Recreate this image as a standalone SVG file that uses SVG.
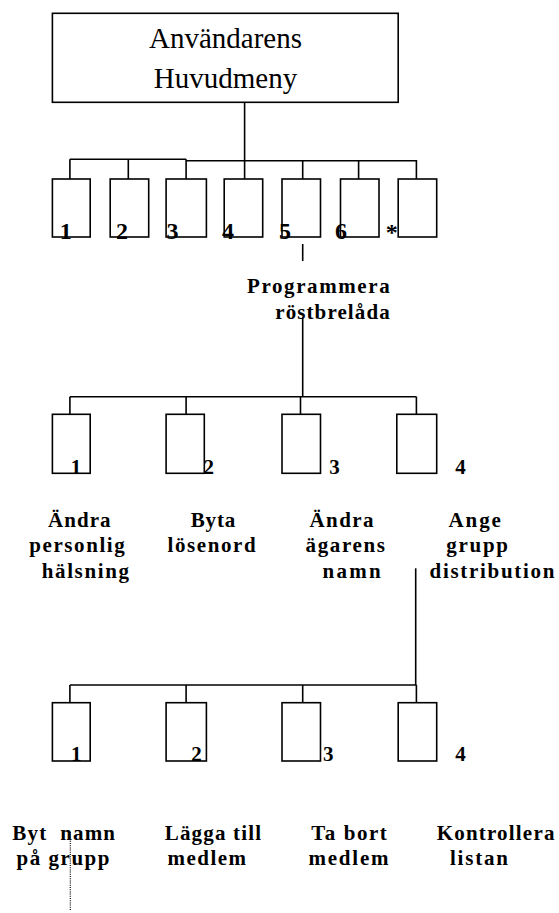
<svg xmlns="http://www.w3.org/2000/svg" width="559" height="913" viewBox="0 0 559 913">
<style>
.bx{fill:#fff;stroke:#000;stroke-width:1.6}
.ln{fill:none;stroke:#000;stroke-width:1.6}
.dot{fill:none;stroke:#000;stroke-width:1.2;stroke-dasharray:1 1.2}
.ttl{font-family:"Liberation Serif","Times New Roman",serif;font-size:29px;fill:#000;text-anchor:middle}
.lb{font-family:"Liberation Serif","Times New Roman",serif;font-weight:bold;font-size:21px;fill:#000}
.d1{font-family:"Liberation Serif","Times New Roman",serif;font-weight:bold;font-size:24px;fill:#000;text-anchor:middle}
.d2{font-family:"Liberation Serif","Times New Roman",serif;font-weight:bold;font-size:21px;fill:#000;text-anchor:middle}
</style>
<rect width="559" height="913" fill="#fff"/>
<g id="connectors">
<line class="ln" x1="244.6" y1="102.3" x2="244.6" y2="160.5"/>
<line class="ln" x1="69.9" y1="159.3" x2="186.1" y2="159.3"/>
<line class="ln" x1="186.1" y1="160.7" x2="416.4" y2="160.7"/>
<line class="ln" x1="69.9" y1="159.3" x2="69.9" y2="179"/>
<line class="ln" x1="128.3" y1="159.3" x2="128.3" y2="179"/>
<line class="ln" x1="186.1" y1="159.3" x2="186.1" y2="179"/>
<line class="ln" x1="244.6" y1="160" x2="244.6" y2="179"/>
<line class="ln" x1="302.7" y1="160" x2="302.7" y2="179"/>
<line class="ln" x1="358.6" y1="160" x2="358.6" y2="179"/>
<line class="ln" x1="416.4" y1="160" x2="416.4" y2="179"/>
<line class="ln" x1="302.7" y1="244" x2="302.7" y2="261"/>
<line class="ln" x1="302.7" y1="316.7" x2="302.7" y2="396.7"/>
<line class="ln" x1="69.9" y1="396.7" x2="416.4" y2="396.7"/>
<line class="ln" x1="69.9" y1="396.7" x2="69.9" y2="414.3"/>
<line class="ln" x1="186.1" y1="396.7" x2="186.1" y2="414.3"/>
<line class="ln" x1="300.5" y1="396.7" x2="300.5" y2="414.3"/>
<line class="ln" x1="416.4" y1="396.7" x2="416.4" y2="414.3"/>
<line class="ln" x1="415.7" y1="568.3" x2="415.7" y2="685"/>
<line class="ln" x1="69.9" y1="685" x2="416.4" y2="685"/>
<line class="ln" x1="69.9" y1="685" x2="69.9" y2="702.7"/>
<line class="ln" x1="186.1" y1="685" x2="186.1" y2="702.7"/>
<line class="ln" x1="302.7" y1="685" x2="302.7" y2="702.7"/>
<line class="ln" x1="416.4" y1="685" x2="416.4" y2="702.7"/>
<line class="dot" x1="70.3" y1="832" x2="70.3" y2="911"/>
</g>
<g id="main">
<rect class="bx" x="52.4" y="13.3" width="345.8" height="89"/>
<text class="ttl" x="225.5" y="47.7">Användarens</text>
<text class="ttl" x="225.5" y="88.3">Huvudmeny</text>
</g>
<g id="m1"><rect class="bx" x="52.4" y="179" width="37.8" height="58"/><text class="d1" x="65.7" y="238.5">1</text></g>
<g id="m2"><rect class="bx" x="110.2" y="179" width="38.5" height="58"/><text class="d1" x="122" y="238.5">2</text></g>
<g id="m3"><rect class="bx" x="166.1" y="179" width="40.3" height="58"/><text class="d1" x="172.5" y="238.5">3</text></g>
<g id="m4"><rect class="bx" x="224.2" y="179" width="38.5" height="58"/><text class="d1" x="228" y="238.5">4</text></g>
<g id="m5"><rect class="bx" x="282" y="179" width="38.5" height="58"/><text class="d1" x="285" y="238.5">5</text></g>
<g id="m6"><rect class="bx" x="340.5" y="179" width="38.5" height="58"/><text class="d1" x="341" y="238.5">6</text></g>
<g id="m7"><rect class="bx" x="398.2" y="179" width="38.5" height="58"/><text class="d1" x="391.7" y="240">*</text></g>
<g id="prog">
<text class="lb" x="247" y="293" textLength="142.7">Programmera</text>
<text class="lb" x="275.2" y="319" textLength="114.5">röstbrelåda</text>
</g>
<g id="p1"><rect class="bx" x="52.4" y="414.3" width="37.8" height="59"/><text class="d2" x="76" y="474">1</text>
<text class="lb" x="48.1" y="526.7" textLength="62.4">Ändra</text>
<text class="lb" x="29.2" y="551.7" textLength="95.6">personlig</text>
<text class="lb" x="41.7" y="578.3" textLength="87.3">hälsning</text></g>
<g id="p2"><rect class="bx" x="166.1" y="414.3" width="38.2" height="59"/><text class="d2" x="208.7" y="474">2</text>
<text class="lb" x="190.7" y="526.7" textLength="44.6">Byta</text>
<text class="lb" x="167.6" y="551.7" textLength="88">lösenord</text></g>
<g id="p3"><rect class="bx" x="282" y="414.3" width="38.5" height="59"/><text class="d2" x="334.5" y="474">3</text>
<text class="lb" x="309.4" y="526.7" textLength="64.2">Ändra</text>
<text class="lb" x="305.5" y="551.7" textLength="79.5">ägarens</text>
<text class="lb" x="322.6" y="578.3" textLength="58.1">namn</text></g>
<g id="p4"><rect class="bx" x="396.8" y="414.3" width="39.9" height="59"/><text class="d2" x="460.4" y="474">4</text>
<text class="lb" x="448.5" y="526.7" textLength="52.4">Ange</text>
<text class="lb" x="446.3" y="551.7" textLength="61.7">grupp</text>
<text class="lb" x="429.6" y="578.3" textLength="124.8">distribution</text></g>
<g id="g1"><rect class="bx" x="52.4" y="702.7" width="37.8" height="58.3"/><text class="d2" x="76.3" y="761">1</text>
<text class="lb" x="12.3" y="840" textLength="102.7" xml:space="preserve">Byt  namn</text>
<text class="lb" x="16.5" y="864.5" textLength="93">på grupp</text></g>
<g id="g2"><rect class="bx" x="166.1" y="702.7" width="40.3" height="58.3"/><text class="d2" x="196.4" y="761">2</text>
<text class="lb" x="164.7" y="840" textLength="96.3">Lägga till</text>
<text class="lb" x="167.6" y="864.5" textLength="78.4">medlem</text></g>
<g id="g3"><rect class="bx" x="282" y="702.7" width="38.5" height="58.3"/><text class="d2" x="328.3" y="761">3</text>
<text class="lb" x="311.2" y="840" textLength="75.6">Ta bort</text>
<text class="lb" x="308.4" y="864.5" textLength="80.2">medlem</text></g>
<g id="g4"><rect class="bx" x="398.2" y="702.7" width="38.5" height="58.3"/><text class="d2" x="460.4" y="761">4</text>
<text class="lb" x="436.7" y="840" textLength="117.7">Kontrollera</text>
<text class="lb" x="449.9" y="864.5" textLength="58.1">listan</text></g>
</svg>
